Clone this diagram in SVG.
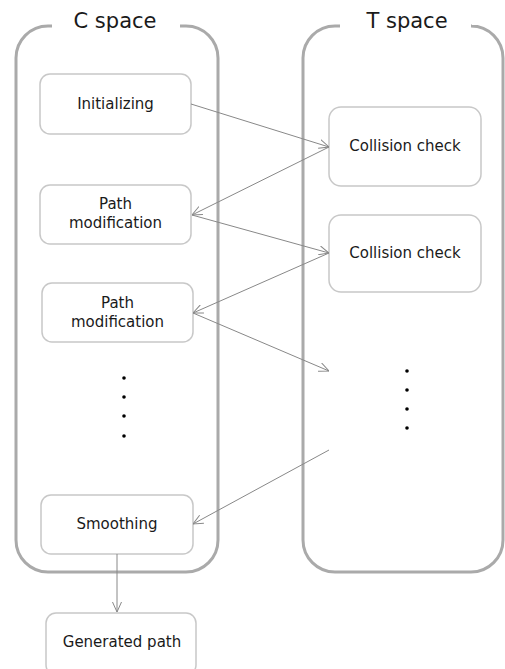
<svg xmlns="http://www.w3.org/2000/svg" width="505" height="669" viewBox="0 0 505 669">
<style>
.space{fill:none;stroke:#aaaaaa;stroke-width:3}
.box{fill:#ffffff;stroke:#c8c8c8;stroke-width:1.5}
.title{font-family:"DejaVu Sans",Verdana,sans-serif;font-size:21px;fill:#1a1a1a;text-anchor:middle}
.lbl{font-family:"DejaVu Sans",Verdana,sans-serif;font-size:15px;fill:#1a1a1a;text-anchor:middle}
.conn{fill:none;stroke:#888888;stroke-width:1}
.dot{fill:#000000}
</style>
<defs>
<marker id="arr" viewBox="0 0 10 10" refX="10" refY="5" markerWidth="10" markerHeight="10" markerUnits="userSpaceOnUse" orient="auto">
<path d="M0,0.5 L10,5 L0,9.5" fill="none" stroke="#888888" stroke-width="1"/>
</marker>
</defs>
<rect width="505" height="669" fill="#ffffff"/>
<g id="c-space">
<path class="space" d="M180,26 H186 A32,32 0 0 1 218,58 V540 A32,32 0 0 1 186,572 H48 A32,32 0 0 1 16,540 V58 A32,32 0 0 1 48,26 H52"/>
<text class="title" x="115" y="28">C space</text>
</g>
<g id="t-space">
<path class="space" d="M472,26 H471 A32,32 0 0 1 503,58 V540 A32,32 0 0 1 471,572 H335 A32,32 0 0 1 303,540 V58 A32,32 0 0 1 335,26 H340"/>
<text class="title" x="407" y="28">T space</text>
</g>
<g id="initializing">
<rect class="box" x="40" y="74" width="151" height="60" rx="10"/>
<text class="lbl" x="115.5" y="109">Initializing</text>
</g>
<g id="path-mod-1">
<rect class="box" x="40" y="185" width="151" height="59" rx="10"/>
<text class="lbl" x="115.5" y="209">Path</text>
<text class="lbl" x="115.5" y="228">modification</text>
</g>
<g id="path-mod-2">
<rect class="box" x="42" y="283" width="151" height="59" rx="10"/>
<text class="lbl" x="117.5" y="308">Path</text>
<text class="lbl" x="117.5" y="327">modification</text>
</g>
<g id="c-dots">
<circle class="dot" cx="124" cy="378" r="1.8"/>
<circle class="dot" cx="124" cy="397" r="1.8"/>
<circle class="dot" cx="124" cy="416" r="1.8"/>
<circle class="dot" cx="124" cy="436" r="1.8"/>
</g>
<g id="smoothing">
<rect class="box" x="41" y="495" width="152" height="59" rx="10"/>
<text class="lbl" x="117" y="529">Smoothing</text>
</g>
<g id="generated-path">
<rect class="box" x="46" y="613" width="150" height="62" rx="10"/>
<text class="lbl" x="122" y="647">Generated path</text>
</g>
<g id="collision-1">
<rect class="box" x="329" y="107" width="152" height="79" rx="12"/>
<text class="lbl" x="405" y="151">Collision check</text>
</g>
<g id="collision-2">
<rect class="box" x="329" y="215" width="152" height="77" rx="12"/>
<text class="lbl" x="405" y="258">Collision check</text>
</g>
<g id="t-dots">
<circle class="dot" cx="407" cy="371" r="1.8"/>
<circle class="dot" cx="407" cy="390" r="1.8"/>
<circle class="dot" cx="407" cy="409" r="1.8"/>
<circle class="dot" cx="407" cy="428" r="1.8"/>
</g>
<g id="connectors">
<line class="conn" x1="191" y1="104" x2="329" y2="147" marker-end="url(#arr)"/>
<line class="conn" x1="329" y1="147" x2="192" y2="215" marker-end="url(#arr)"/>
<line class="conn" x1="192" y1="215" x2="329" y2="253" marker-end="url(#arr)"/>
<line class="conn" x1="329" y1="253" x2="193" y2="313" marker-end="url(#arr)"/>
<line class="conn" x1="193" y1="313" x2="329" y2="371" marker-end="url(#arr)"/>
<line class="conn" x1="329" y1="450" x2="193" y2="524" marker-end="url(#arr)"/>
<line class="conn" x1="117" y1="554" x2="117" y2="612" marker-end="url(#arr)"/>
</g>
</svg>
